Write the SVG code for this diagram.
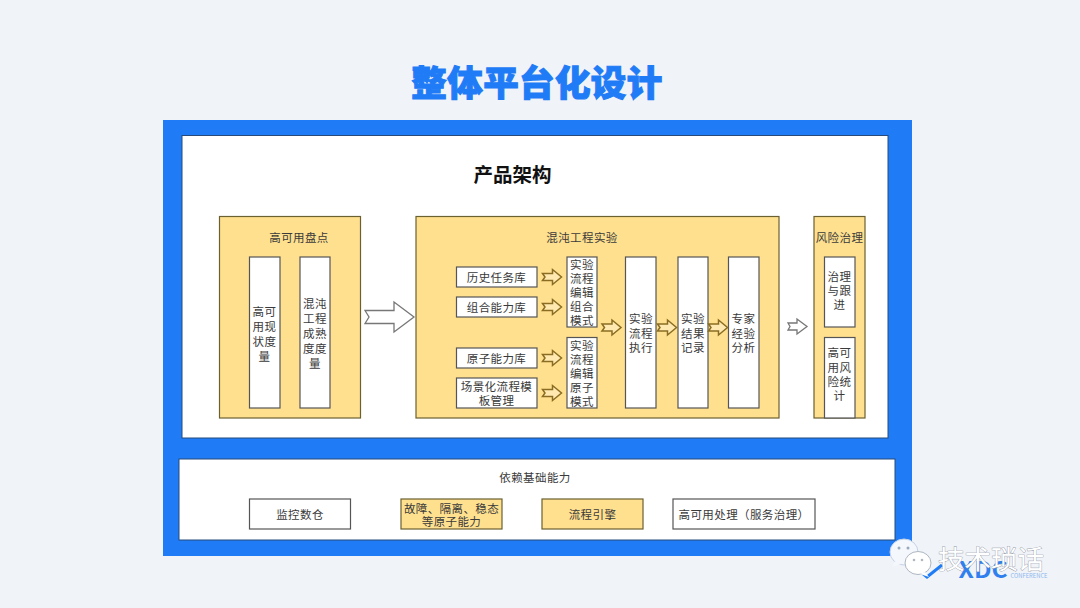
<svg xmlns="http://www.w3.org/2000/svg" width="1080" height="608" viewBox="0 0 1080 608">
<style>
text{font-family:"Noto Sans CJK SC","Liberation Sans",sans-serif;text-anchor:middle;fill:#3a3a3a}
.y{fill:#ffe08f;stroke:#6b6030;stroke-width:1.2}
.w{fill:#fff;stroke:#555;stroke-width:1.2}
.t{font-size:11.500px;letter-spacing:.4px}
.ar{fill:#ffe9b0;stroke:#8a6d22;stroke-width:1.5}
</style>
<defs>
<path id="a" d="M-9.500,-3.500H0.500V-7.500L9.500,0L0.500,7.500V3.500H-9.500L-7,0Z" class="ar"/>
</defs>
<rect width="1080" height="608" fill="#f0f3f8"/>
<text x="537" y="96" style="font-size:35.500px;font-weight:900;fill:#1f7cf6;stroke:#1f7cf6;stroke-width:1.100;letter-spacing:.4px">整体平台化设计</text>
<rect x="163" y="120" width="749" height="436" fill="#1f7cf6"/>
<g id="product"><rect x="182" y="135.500" width="706" height="302.500" fill="#fff" stroke="#274a78" stroke-width="1"/>
<text x="512.500" y="182" style="font-size:19.500px;font-weight:700;fill:#111">产品架构</text></g>
<g id="ha-inventory"><rect class="y" x="219.500" y="216.500" width="141" height="201.500"/>
<text class="t" x="299" y="241.500">高可用盘点</text></g>
<g id="ha-measure"><rect class="w" x="249.500" y="257" width="30.500" height="151"/>
<text class="t"><tspan x="264.500" y="316">高可</tspan><tspan x="264.500" y="331">用现</tspan><tspan x="264.500" y="346">状度</tspan><tspan x="264.500" y="361">量</tspan></text></g>
<g id="chaos-maturity"><rect class="w" x="300" y="257" width="30" height="151"/>
<text class="t"><tspan x="315" y="308">混沌</tspan><tspan x="315" y="323">工程</tspan><tspan x="315" y="338">成熟</tspan><tspan x="315" y="353">度度</tspan><tspan x="315" y="368">量</tspan></text></g>
<g id="chaos-lab"><rect class="y" x="416" y="216.500" width="363" height="201.500"/>
<text class="t" x="582" y="241.500">混沌工程实验</text></g>
<g id="history"><rect class="w" x="456.500" y="267" width="80.500" height="20"/><text class="t" x="496.500" y="281.500">历史任务库</text></g>
<g id="combo"><rect class="w" x="456.500" y="297" width="80.500" height="20"/><text class="t" x="496.500" y="311.500">组合能力库</text></g>
<g id="atomic"><rect class="w" x="456.500" y="348" width="80.500" height="20"/><text class="t" x="496.500" y="362.500">原子能力库</text></g>
<g id="scenario"><rect class="w" x="456.500" y="378" width="80.500" height="30"/>
<text class="t"><tspan x="496.500" y="391">场景化流程模</tspan><tspan x="496.500" y="405">板管理</tspan></text></g>
<g id="edit-combo"><rect class="w" x="567" y="257" width="30" height="70"/>
<text class="t"><tspan x="582" y="268.500">实验</tspan><tspan x="582" y="282.500">流程</tspan><tspan x="582" y="296.500">编辑</tspan><tspan x="582" y="311">组合</tspan><tspan x="582" y="325">模式</tspan></text></g>
<g id="edit-atomic"><rect class="w" x="567" y="337.500" width="30" height="70.500"/>
<text class="t"><tspan x="582" y="349.500">实验</tspan><tspan x="582" y="363.500">流程</tspan><tspan x="582" y="377.500">编辑</tspan><tspan x="582" y="392">原子</tspan><tspan x="582" y="406">模式</tspan></text></g>
<g id="run"><rect class="w" x="625.500" y="257" width="30.500" height="151"/>
<text class="t"><tspan x="641" y="323">实验</tspan><tspan x="641" y="338">流程</tspan><tspan x="641" y="352">执行</tspan></text></g>
<g id="record"><rect class="w" x="678" y="257" width="30" height="151"/>
<text class="t"><tspan x="693" y="323">实验</tspan><tspan x="693" y="338">结果</tspan><tspan x="693" y="352">记录</tspan></text></g>
<g id="expert"><rect class="w" x="728.500" y="257" width="30.500" height="151"/>
<text class="t"><tspan x="743.500" y="323">专家</tspan><tspan x="743.500" y="338">经验</tspan><tspan x="743.500" y="352">分析</tspan></text></g>
<g id="risk"><rect class="y" x="814" y="216.500" width="51" height="201.500"/>
<text class="t" x="839.500" y="241.500">风险治理</text></g>
<g id="track"><rect class="w" x="824.500" y="257" width="30.500" height="70"/>
<text class="t"><tspan x="839.500" y="281">治理</tspan><tspan x="839.500" y="295">与跟</tspan><tspan x="839.500" y="309">进</tspan></text></g>
<g id="risk-stat"><rect class="w" x="824.500" y="337.500" width="30.500" height="80.500"/>
<text class="t"><tspan x="839.500" y="357">高可</tspan><tspan x="839.500" y="372">用风</tspan><tspan x="839.500" y="386">险统</tspan><tspan x="839.500" y="400">计</tspan></text></g>
<g id="connectors">
<path d="M365,310.500H394V302L414,317L394,332V323.500H365L369,317Z" fill="#fff" stroke="#777" stroke-width="1.3"/>
<use href="#a" x="552" y="277"/>
<use href="#a" x="552" y="307"/>
<use href="#a" x="552" y="358"/>
<use href="#a" x="552" y="393"/>
<use href="#a" x="611.500" y="327.500"/>
<use href="#a" x="667" y="327.500"/>
<use href="#a" x="718" y="327.500"/>
<path d="M788,323H797V319L807,326.500L797,334V330H788L790,326.500Z" fill="#fff" stroke="#777" stroke-width="1.3"/>
</g>
<g id="foundation"><rect x="179" y="459" width="716" height="81" fill="#fff" stroke="#274a78" stroke-width="1"/>
<text class="t" x="535" y="482">依赖基础能力</text></g>
<g id="monitor"><rect class="w" x="249.500" y="499" width="101" height="30"/><text class="t" x="300" y="519">监控数仓</text></g>
<g id="fault"><rect class="y" x="401" y="499" width="101" height="30"/>
<text class="t"><tspan x="451.500" y="512.500">故障、隔离、稳态</tspan><tspan x="451.500" y="526">等原子能力</tspan></text></g>
<g id="engine"><rect class="y" x="542" y="499" width="101" height="30"/><text class="t" x="592.500" y="519">流程引擎</text></g>
<g id="ha-process"><rect class="w" x="673" y="499" width="142" height="30"/><text class="t" x="744" y="519">高可用处理（服务治理）</text></g>
<g id="watermark">
<path d="M921,572L927,577L942,565" fill="none" stroke="#1f7cf6" stroke-width="3"/>
<text x="983" y="578" style="font-size:22px;font-weight:700;fill:#2f80ee" textLength="49" lengthAdjust="spacingAndGlyphs">XDC</text>
<text x="1029" y="578" style="font-size:6px;fill:#8fb8ee" textLength="37" lengthAdjust="spacingAndGlyphs">CONFERENCE</text>
<ellipse cx="904" cy="552" rx="14" ry="13" fill="#f4f7fc" stroke="#c5d2e6" stroke-width="1"/>
<path d="M895,561L892,567L901,564Z" fill="#f4f7fc"/>
<ellipse cx="918" cy="563" rx="13" ry="11.500" fill="#fff" stroke="#aeb6c2" stroke-width="1"/>
<path d="M925,572L929,577L920,574Z" fill="#fff"/>
<circle cx="899" cy="548" r="1.500" fill="#9aa8bc"/><circle cx="908" cy="548" r="1.500" fill="#9aa8bc"/>
<circle cx="914" cy="560" r="1.300" fill="#b0b6c0"/><circle cx="922" cy="560" r="1.300" fill="#b0b6c0"/>
<text x="991" y="569" style="font-size:26.500px;fill:#fff;stroke:#8a8f98;stroke-width:.7;paint-order:stroke">技术琐话</text>
</g>
</svg>
